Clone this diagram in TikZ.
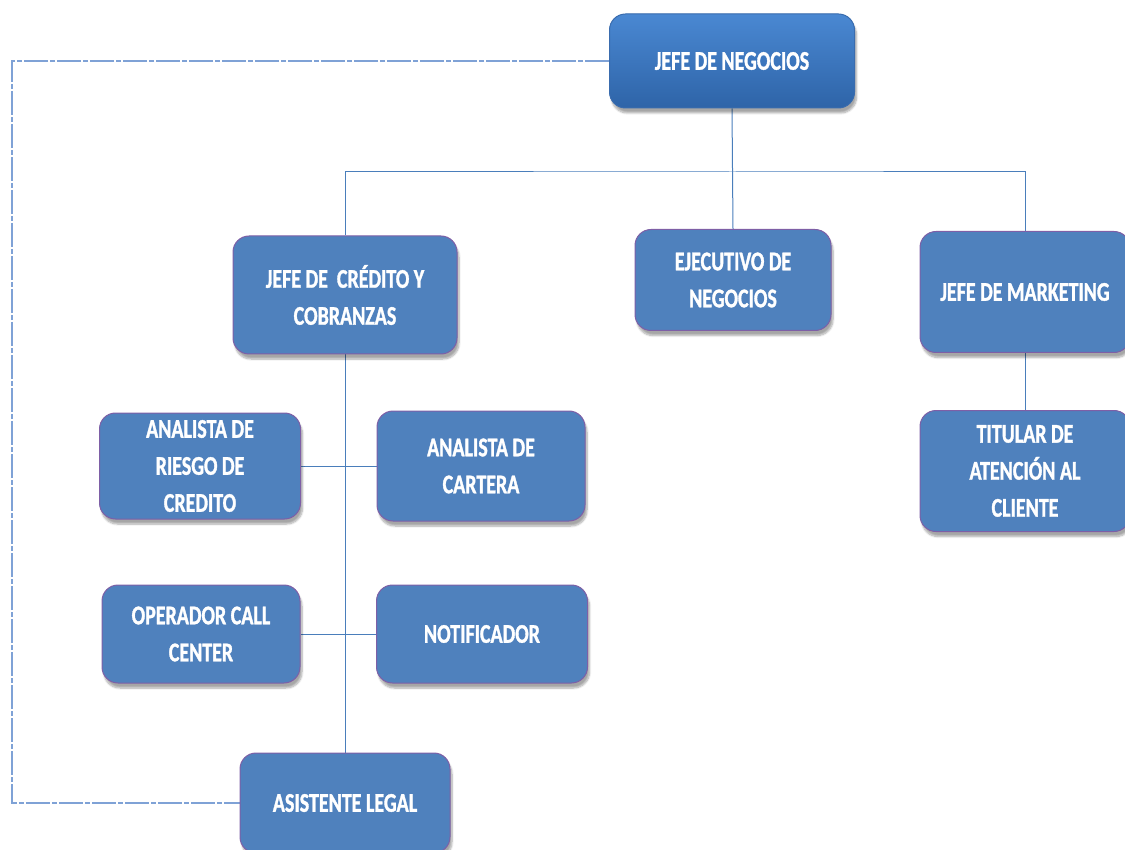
\documentclass[tikz,border=0pt]{standalone}
\usepackage{fontspec}
\setmainfont{Carlito}[FakeStretch=0.74, BoldFeatures={FakeBold=1.2}]
\usetikzlibrary{shadows.blur,backgrounds}
\definecolor{boxblue}{HTML}{4F81BD}
\definecolor{boxedge}{HTML}{7E5FA6}
\definecolor{toptop}{HTML}{4A88D2}
\definecolor{topbot}{HTML}{2E64A8}
\definecolor{topedge}{HTML}{3A6CAE}
\definecolor{linkblue}{HTML}{4A7EBB}
\definecolor{dashblue}{HTML}{7FA2D6}
\tikzset{
  unit/.style={draw=boxedge, line width=1pt, fill=boxblue, rounded corners=16pt,
    text=white, font=\fontsize{27}{37}\selectfont\bfseries, align=center,
    inner sep=0pt, blur shadow={shadow xshift=2pt, shadow yshift=-5pt, shadow opacity=35, shadow blur steps=8}},
  headunit/.style={unit, draw=topedge, top color=toptop, bottom color=topbot},
  link/.style={draw=linkblue, line width=1pt},
  advice/.style={draw=dashblue, line width=1.4pt, dash pattern=on 24pt off 2pt on 5pt off 2pt},
}
\begin{document}
\begin{tikzpicture}[x=1pt,y=-1pt]
\useasboundingbox (0,0) rectangle (1125,850);
\clip (0,0) rectangle (1125,850);
\node[headunit, minimum width=245pt, minimum height=94pt] (jn) at (732,61) {JEFE DE NEGOCIOS};
\node[unit, minimum width=224pt, minimum height=118pt] (jc) at (345,295) {JEFE DE\ \ CRÉDITO Y\\COBRANZAS};
\node[unit, minimum width=196pt, minimum height=101pt] (ej) at (733,280) {EJECUTIVO DE\\NEGOCIOS};
\node[unit, minimum width=210pt, minimum height=121pt] (jm) at (1025,292) {JEFE DE MARKETING};
\node[unit, minimum width=210pt, minimum height=121pt] (ti) at (1025,471) {TITULAR DE\\ATENCIÓN AL\\CLIENTE};
\node[unit, minimum width=201pt, minimum height=106pt] (ar) at (200,466) {ANALISTA DE\\RIESGO DE\\CREDITO};
\node[unit, minimum width=208pt, minimum height=110pt] (ac) at (481,466) {ANALISTA DE\\CARTERA};
\node[unit, minimum width=198pt, minimum height=98pt] (op) at (201,634) {OPERADOR CALL\\CENTER};
\node[unit, minimum width=211pt, minimum height=98pt] (nt) at (482,634) {NOTIFICADOR};
\node[unit, minimum width=210pt, minimum height=100pt] (al) at (345,803) {ASISTENTE LEGAL};
\coordinate (bus) at (733,172);
\coordinate (corner) at (12,803);
\begin{scope}[on background layer]
  \draw[link] (jn.south) -- (ej.north);
  \draw[link] (jc.north) |- (bus) -| (jm.north);
  \draw[link] (jc.south) -- (al.north);
  \draw[link] (ar.east) -- (ac.west);
  \draw[link] (op.east) -- (nt.west);
  \draw[link] (jm.south) -- (ti.north);
  \draw[advice] (jn.west) -| (corner) -- (al.west);
\end{scope}
\end{tikzpicture}
\end{document}
